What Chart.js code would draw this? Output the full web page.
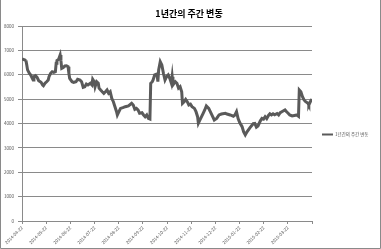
<!DOCTYPE html>
<html>
<head>
<meta charset="utf-8">
<script src="https://cdn.jsdelivr.net/npm/chart.js@4"></script>
<style>
html,body{margin:0;padding:0;background:#fff;}
#wrap{width:381px;height:249px;position:relative;}
canvas{display:block;}
</style>
</head>
<body>
<div id="wrap"><canvas id="c" width="381" height="249"></canvas></div>
<script>
const chartTitle = '1년간의 주간 변동';
const seriesName = '1년간의 주간 변동';
const tickLabels = ['2014-04-22','2014-05-22','2014-06-22','2014-07-22','2014-08-22','2014-09-22',
  '2014-10-22','2014-11-22','2014-12-22','2015-01-22','2015-02-22','2015-03-22',''];
const yTickValues = [0,1000,2000,3000,4000,5000,6000,7000,8000];
// day offsets from 2014-04-22
const days = [0,4,5,6,7,9,11,13,14,15,17,19,21,24,26,27,29,31,33,34,36,38,40,42,43,44,46,48,49,50,
  52,54,56,58,59,60,63,65,68,70,73,75,77,79,81,83,86,88,89,91,92,94,96,97,99,101,103,105,107,109,
  111,113,115,117,119,120,122,124,127,130,134,138,140,142,144,146,148,151,153,155,157,159,161,162,164,165,167,170,171,172,
  174,176,178,180,182,184,186,188,189,190,193,195,197,199,201,202,204,206,208,210,212,214,217,219,221,222,224,226,228,230,
  232,235,237,240,242,245,248,251,256,258,262,266,268,270,272,274,277,279,281,283,287,291,293,295,297,300,302,304,306,308,
  310,312,314,316,318,321,323,325,327,331,333,335,337,340,346,348,349,351,353,355,357,360,361,363,365];
const values = [6650,6600,6580,6400,6200,6070,5990,5850,5785,5920,5960,5890,5755,5690,5580,5550,5650,5715,5785,5920,
  6060,6125,6100,6125,6470,6580,6630,6810,6580,6265,
  6300,6360,6370,6330,6060,5850,5715,5690,5715,5815,5785,5715,5485,5510,5620,5580,5650,5580,5815,5715,5510,5715,5650,5450,5375,5305,5240,5305,5375,5240,
  5305,5030,4895,4690,4485,4350,4485,4620,4650,4690,4720,4830,4760,4580,4620,4555,4420,4440,4350,4280,4350,4210,4185,5650,5715,5785,5990,6030,5715,6195,
  6535,6400,6060,5785,5920,5990,5850,5650,5920,5580,5715,5650,5450,5510,5305,4830,4895,4990,4895,4760,4790,4690,4620,4485,4280,4010,4145,4280,4420,4555,
  4720,4620,4485,4280,4145,4210,4350,4390,4420,4390,4350,4300,4350,4485,4200,4040,3870,3650,3530,3650,3830,3990,4000,3850,3900,4110,4210,4180,4280,4200,
  4320,4400,4350,4400,4360,4410,4350,4445,4485,4555,4480,4420,4350,4310,4350,4300,5375,5305,5100,4965,4895,4830,4760,4900,5000];

const points = days.map((d,i)=>({x:d, y:values[i]}));
const totalDays = 365;
const FONT = "'Noto Sans CJK KR', 'Liberation Sans', sans-serif";

const decor = {
  id:'decor',
  afterDraw(chart){
    const ctx = chart.ctx;
    ctx.save();
    ctx.strokeStyle = '#8a8a8a';
    ctx.lineWidth = 1;
    ctx.beginPath();
    ctx.moveTo(0.5,0); ctx.lineTo(0.5,248.5); ctx.lineTo(380.5,248.5); ctx.lineTo(380.5,0);
    ctx.stroke();
    ctx.fillStyle = '#000';
    ctx.font = "bold 9px " + FONT;
    ctx.textAlign = 'center';
    ctx.textBaseline = 'middle';
    ctx.fillText(chartTitle, 189, 13.5);
    ctx.strokeStyle = '#5a5a5a';
    ctx.lineWidth = 2;
    ctx.beginPath();
    ctx.moveTo(322, 134.5); ctx.lineTo(333, 134.5);
    ctx.stroke();
    ctx.fillStyle = '#555';
    ctx.font = "4.5px " + FONT;
    ctx.textAlign = 'left';
    ctx.fillText(seriesName, 335, 134.5);
    ctx.restore();
  }
};

new Chart(document.getElementById('c'), {
  type:'line',
  data:{datasets:[{label:seriesName, data:points, borderColor:'#5a5a5a', borderWidth:3, pointRadius:0, tension:0, fill:false}]},
  options:{
    responsive:false, animation:false, devicePixelRatio:1,
    layout:{padding:{top:26, right:69, left:0, bottom:0}},
    plugins:{legend:{display:false}, title:{display:false}, tooltip:{enabled:false}},
    scales:{
      x:{type:'linear', min:0, max:totalDays,
        afterBuildTicks(s){ s.ticks = tickLabels.map((_,i)=>({value:i*totalDays/12})); },
        afterFit(s){ s.height = 28; },
        ticks:{autoSkip:false, minRotation:45, maxRotation:45, padding:1, color:'#555', font:{size:4.5, family:FONT},
          callback:(v,i)=>tickLabels[i]},
        grid:{drawOnChartArea:false, drawTicks:true, tickLength:3, color:'#8a8a8a'},
        border:{color:'#8a8a8a', width:1}
      },
      y:{min:0, max:8000,
        afterBuildTicks(s){ s.ticks = yTickValues.map(v=>({value:v})); },
        afterFit(s){ s.width = 22; },
        ticks:{padding:4, color:'#555', font:{size:4.5, family:FONT}, callback:(v)=>String(v)},
        grid:{color:'#8a8a8a', tickLength:4},
        border:{color:'#8a8a8a', width:1}
      }
    }
  },
  plugins:[decor]
});
</script>
</body>
</html>
